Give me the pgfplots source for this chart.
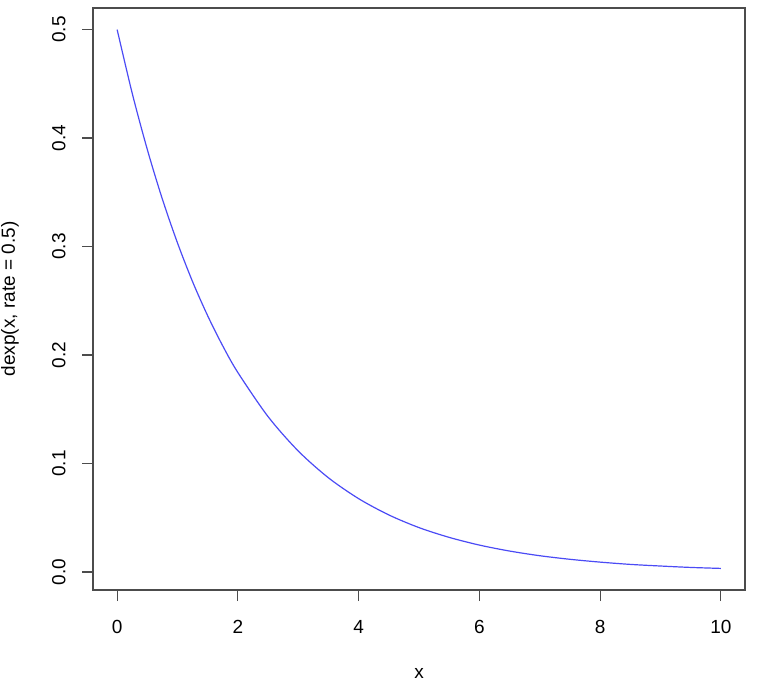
\documentclass[border=0pt]{standalone}
\usepackage{pgfplots}
\pgfplotsset{compat=1.18}
\usepackage{fontspec}
\setmainfont{Liberation Sans}
\definecolor{curveblue}{RGB}{75,75,245}
\begin{document}
\fontsize{19}{22}\selectfont
\begin{tikzpicture}
\path[use as bounding box] (-93pt,-95pt) rectangle (669pt,590pt);
\begin{axis}[
  at={(0,0)}, anchor=south west,
  scale only axis, width=652pt, height=582pt,
  xmin=-0.4, xmax=10.4, ymin=-0.0165, ymax=0.5199,
  xtick={0,2,4,6,8,10},
  ytick={0,0.1,0.2,0.3,0.4,0.5},
  yticklabels={0.0,0.1,0.2,0.3,0.4,0.5},
  /pgf/number format/assume math mode=true,
  tick align=outside, tick pos=left,
  major tick length=11pt,
  every tick/.style={black!70, line width=1.2pt},
  axis line style={black!70, line width=1.3pt},
  xticklabel style={yshift=-13pt, font=\fontsize{19}{22}\selectfont},
  yticklabel shift=10pt,
  yticklabel style={rotate=90, anchor=south, font=\fontsize{19}{22}\selectfont},
  xlabel={x}, ylabel={dexp(x, rate = 0.5)},
  xlabel style={at={(axis description cs:0.5,0)}, anchor=center, yshift=-83pt, font=\fontsize{19}{22}\selectfont},
  ylabel style={at={(axis description cs:0,0.5)}, anchor=center, rotate=0, yshift=83pt, font=\fontsize{19}{22}\selectfont},
]
\addplot[curveblue, line width=1.2pt, smooth] coordinates {
(0,0.5) (0.25,0.4412) (0.5,0.3894) (0.75,0.3436) (1,0.3033) (1.25,0.2676)
(1.5,0.2362) (1.75,0.2084) (2,0.1839) (2.5,0.1433) (3,0.1116) (3.5,0.0869)
(4,0.0677) (4.5,0.0527) (5,0.0410) (5.5,0.0320) (6,0.0249) (6.5,0.0194)
(7,0.0151) (7.5,0.0118) (8,0.0092) (8.5,0.0071) (9,0.0056) (9.5,0.0043) (10,0.0034)
};
\end{axis}
\end{tikzpicture}
\end{document}
